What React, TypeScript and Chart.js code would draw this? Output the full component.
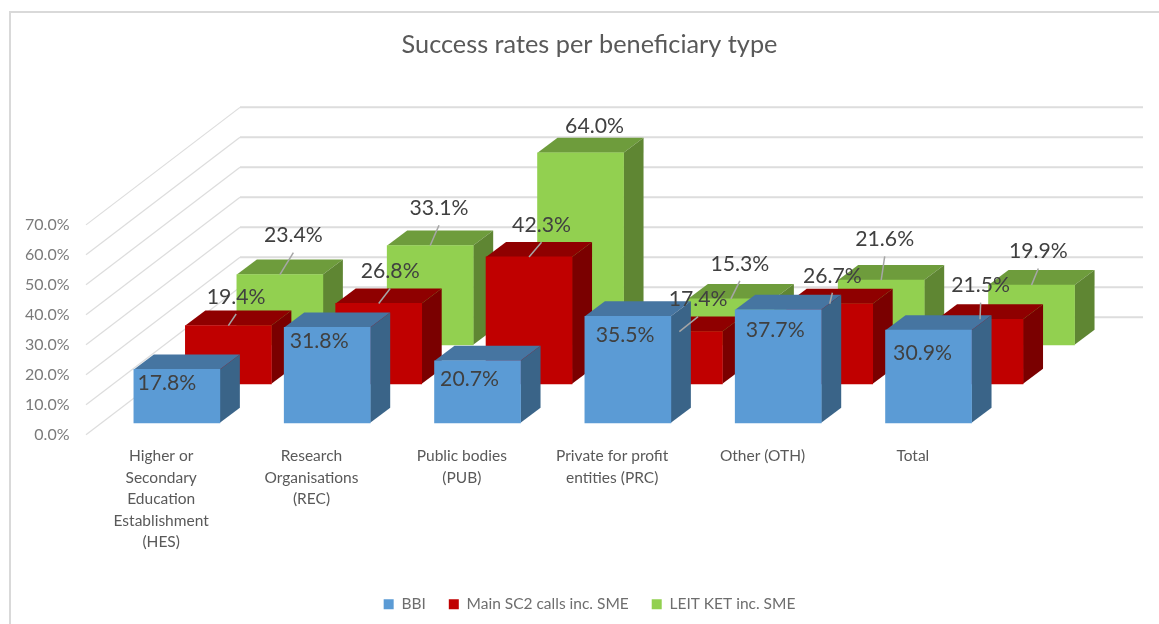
import React, { useEffect, useRef } from "react";
import { Chart, registerables } from "chart.js";

Chart.register(...registerables);

const categories = [
  ["Higher or", "Secondary", "Education", "Establishment", "(HES)"],
  ["Research", "Organisations", "(REC)"],
  ["Public bodies", "(PUB)"],
  ["Private for profit", "entities (PRC)"],
  ["Other (OTH)"],
  ["Total"],
];
const seriesNames = ["BBI", "Main SC2 calls inc. SME", "LEIT KET inc. SME"];
const bbi = [17.8, 31.8, 20.7, 35.5, 37.7, 30.9];
const mainSc2 = [19.4, 26.8, 42.3, 17.4, 26.7, 21.5];
const leitKet = [23.4, 33.1, 64.0, 15.3, 21.6, 19.9];

const frontColors = ["#5B9BD5", "#C00000", "#92D050"];
const topColors = ["#4675A1", "#8F0000", "#6E9C3C"];
const sideColors = ["#3A6488", "#7A0000", "#5F8633"];

// Depth placement of each series' row on the floor of the 3D box.
const rowShiftX = [15.7, 67.2, 118.7];
const rowShiftY = [12, 51, 90];
const depthX = 20;
const depthY = 15;

// Hand-placed data label offsets from the top-centre of each bar's front face.
const labelOffsets = [
  [[-10, 13.4], [-8, 14], [-8, 18], [-2.7, 18.6], [-3, 20], [-6, 22.7]],
  [[7.8, -28.6], [11.5, -32], [12.5, -31.7], [18.7, -32], [2.7, -28], [0.6, -33.7]],
  [[13.5, -39], [8.8, -37.3], [14, -26.7], [9, -35], [3.5, -40.7], [6.8, -33.6]],
];

const FONT = "Lato, Carlito, sans-serif";

const box3d = {
  id: "box3d",
  beforeDraw(chart: any) {
    const { ctx, width, height } = chart;
    ctx.save();
    ctx.fillStyle = "#ffffff";
    ctx.fillRect(0, 0, width, height);
    ctx.strokeStyle = "#D9D9D9";
    ctx.lineWidth = 2;
    ctx.beginPath();
    ctx.moveTo(10, height);
    ctx.lineTo(10, 12);
    ctx.lineTo(width, 12);
    ctx.stroke();
    ctx.restore();
  },
  beforeDatasetsDraw(chart: any) {
    const { ctx, scales } = chart;
    const y = scales.y;
    const left = chart.chartArea.left;
    ctx.save();
    ctx.strokeStyle = "#DDDDDD";
    y.ticks.forEach((t: any) => {
      const py = y.getPixelForValue(t.value);
      ctx.lineWidth = 1.2;
      ctx.beginPath();
      ctx.moveTo(left, py);
      ctx.lineTo(left + 154, py - 117.5);
      ctx.stroke();
      ctx.lineWidth = 2;
      ctx.beginPath();
      ctx.moveTo(left + 154, py - 117.5);
      ctx.lineTo(left + 1057, py - 117.5);
      ctx.stroke();
    });
    ctx.restore();
  },
  afterDatasetUpdate(chart: any, args: any) {
    const i = args.index;
    chart.getDatasetMeta(i).data.forEach((el: any) => {
      el.x += rowShiftX[i];
      el.y -= rowShiftY[i];
      el.base -= rowShiftY[i];
    });
  },
  beforeDatasetDraw(chart: any, args: any) {
    const { ctx } = chart;
    const i = args.index;
    ctx.save();
    chart.getDatasetMeta(i).data.forEach((el: any) => {
      const l = el.x - el.width / 2;
      const r = el.x + el.width / 2;
      ctx.fillStyle = topColors[i];
      ctx.beginPath();
      ctx.moveTo(l, el.y);
      ctx.lineTo(r, el.y);
      ctx.lineTo(r + depthX, el.y - depthY);
      ctx.lineTo(l + depthX, el.y - depthY);
      ctx.closePath();
      ctx.fill();
      ctx.fillStyle = sideColors[i];
      ctx.beginPath();
      ctx.moveTo(r, el.y);
      ctx.lineTo(r + depthX, el.y - depthY);
      ctx.lineTo(r + depthX, el.base - depthY);
      ctx.lineTo(r, el.base);
      ctx.closePath();
      ctx.fill();
    });
    ctx.restore();
  },
  afterDatasetsDraw(chart: any) {
    const { ctx } = chart;
    ctx.save();
    ctx.textAlign = "center";
    ctx.textBaseline = "middle";
    ctx.font = `21.2px ${FONT}`;
    chart.data.datasets.forEach((ds: any, i: number) => {
      chart.getDatasetMeta(i).data.forEach((el: any, j: number) => {
        const [dx, dy] = labelOffsets[i][j];
        const lx = el.x + dx;
        const ly = el.y + dy;
        if (dy < -27.5) {
          ctx.strokeStyle = "#A6A6A6";
          ctx.lineWidth = 1.5;
          ctx.beginPath();
          ctx.moveTo(el.x, el.y);
          ctx.lineTo(lx, ly + 17);
          ctx.stroke();
        }
        ctx.fillStyle = "#404040";
        ctx.fillText(ds.data[j].toFixed(1) + "%", lx, ly);
      });
    });
    ctx.restore();
  },
};

export default function App() {
  const ref = useRef<HTMLCanvasElement>(null);
  useEffect(() => {
    document.body.style.margin = "0";
    const chart = new Chart(ref.current as HTMLCanvasElement, {
      type: "bar",
      data: {
        labels: categories as any,
        datasets: [bbi, mainSc2, leitKet].map((data, i) => ({
          label: seriesNames[i],
          data,
          backgroundColor: frontColors[i],
          barThickness: 86,
          grouped: false,
          clip: false as any,
        })),
      },
      options: {
        responsive: false,
        animation: false,
        events: [],
        layout: { padding: { left: 20, bottom: 2 } },
        plugins: {
          tooltip: { enabled: false },
          title: {
            display: true,
            text: "Success rates per beneficiary type",
            color: "#595959",
            font: { family: FONT, size: 25.3, weight: "normal" },
            padding: { top: 29.8, bottom: 164.7 },
          },
          legend: {
            position: "bottom",
            labels: {
              boxWidth: 10,
              boxHeight: 10,
              padding: 23,
              color: "#6E6E6E",
              font: { family: FONT, size: 15.5 },
            },
          },
        },
        scales: {
          x: {
            grid: { display: false },
            border: { display: false },
            afterFit(s: any) {
              s.height = 138.7;
            },
            ticks: {
              autoSkip: false,
              maxRotation: 0,
              padding: 2.5,
              color: "#595959",
              font: { family: FONT, size: 15.5, lineHeight: 1.39 },
            },
          },
          y: {
            min: 0,
            max: 70,
            grid: { display: false },
            border: { display: false },
            afterFit(s: any) {
              s.width = 66;
            },
            ticks: {
              stepSize: 10,
              padding: 8.5,
              color: "#7A7A7A",
              font: { family: FONT, size: 16 },
              callback: (v: any) => Number(v).toFixed(1) + "%",
            },
          },
          y2: {
            position: "right",
            grid: { display: false },
            border: { display: false },
            ticks: { display: false },
            afterFit(s: any) {
              s.width = 171;
            },
          },
        },
      },
      plugins: [box3d as any],
    });
    return () => chart.destroy();
  }, []);
  return <canvas ref={ref} width={1159} height={624} style={{ display: "block" }} />;
}
